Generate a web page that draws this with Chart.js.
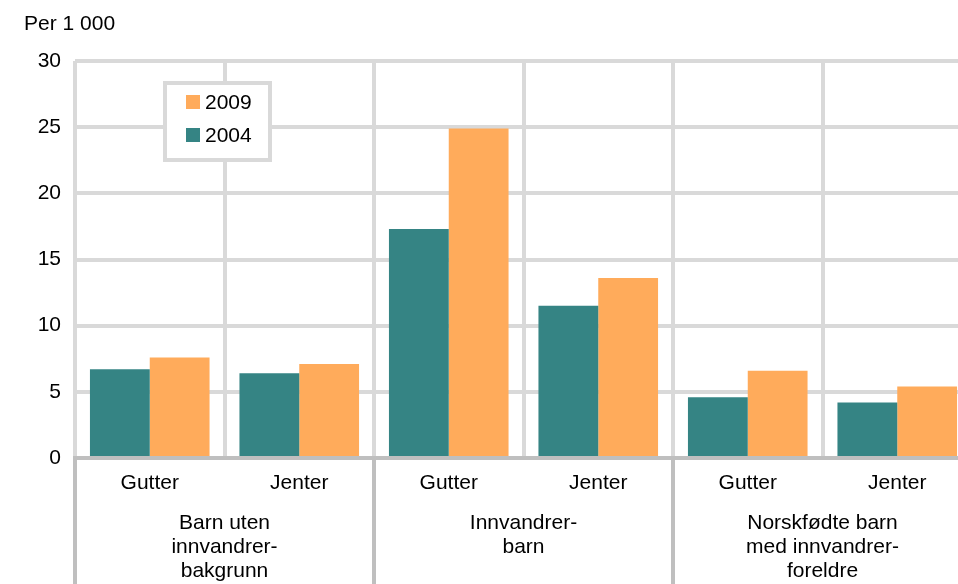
<!DOCTYPE html>
<html>
<head>
<meta charset="utf-8">
<script src="https://cdn.jsdelivr.net/npm/chart.js@4"></script>
<style>
  html, body { margin: 0; padding: 0; background: #fff; overflow: hidden; }
  #wrap { width: 972px; height: 584px; position: relative; }
</style>
</head>
<body>
<div id="wrap"><canvas id="grafico"></canvas></div>
<script>
const kategorier = ['Gutter', 'Jenter', 'Gutter', 'Jenter', 'Gutter', 'Jenter'];
const grupper = [
  ['Barn uten', 'innvandrer-', 'bakgrunn'],
  ['Innvandrer-', 'barn'],
  ['Norskfødte barn', 'med innvandrer-', 'foreldre']
];
const verdier2004 = [6.7, 6.4, 17.3, 11.5, 4.6, 4.2];
const verdier2009 = [7.6, 7.1, 24.9, 13.6, 6.6, 5.4];
const yTicks = [0, 5, 10, 15, 20, 25, 30];

const TEAL = '#358484';
const ORANSJE = '#FFAB5B';
const FONT = '"Liberation Sans", Arial, sans-serif';

// tekst under aksen, skillelinjer, legende og enhet
const ekstra = {
  id: 'ekstra',
  afterDraw(chart) {
    const ctx = chart.ctx;
    const x = chart.scales.x;
    const area = chart.chartArea;
    const steg = x.getPixelForValue(1) - x.getPixelForValue(0);
    ctx.save();

    // skillelinjer mellom gruppene under aksen
    ctx.strokeStyle = '#bfbfbf';
    ctx.lineWidth = 4;
    for (let g = 0; g < grupper.length; g++) {
      const px = x.getPixelForValue(g * 2) - steg / 2;
      ctx.beginPath();
      ctx.moveTo(px, area.bottom);
      ctx.lineTo(px, chart.height);
      ctx.stroke();
    }

    // gruppetekster
    ctx.fillStyle = '#000';
    ctx.font = '21px ' + FONT;
    ctx.textAlign = 'center';
    ctx.textBaseline = 'middle';
    grupper.forEach((linjer, g) => {
      const cx = (x.getPixelForValue(g * 2) + x.getPixelForValue(g * 2 + 1)) / 2;
      linjer.forEach((t, j) => {
        ctx.fillText(t, cx, area.bottom + 65 + j * 24);
      });
    });

    // enhet
    ctx.textAlign = 'left';
    ctx.fillText('Per 1 000', 24, 24);

    // legende
    const lx = 165, ly = 83, lw = 105, lh = 77;
    ctx.fillStyle = '#fff';
    ctx.fillRect(lx, ly, lw, lh);
    ctx.strokeStyle = '#d9d9d9';
    ctx.lineWidth = 4;
    ctx.strokeRect(lx, ly, lw, lh);
    const ds = chart.data.datasets.slice().reverse();
    ds.forEach((d, j) => {
      const yy = 102 + j * 33;
      ctx.fillStyle = d.backgroundColor;
      ctx.fillRect(186, yy - 7, 14, 14);
      ctx.fillStyle = '#000';
      ctx.fillText(d.label, 205, yy + 1);
    });

    ctx.restore();
  }
};

new Chart(document.getElementById('grafico'), {
  type: 'bar',
  data: {
    labels: kategorier,
    datasets: [
      { label: '2004', data: verdier2004, backgroundColor: TEAL },
      { label: '2009', data: verdier2009, backgroundColor: ORANSJE }
    ]
  },
  options: {
    responsive: true,
    maintainAspectRatio: false,
    animation: false,
    categoryPercentage: 0.8,
    barPercentage: 1.0,
    layout: { padding: { top: 61, right: 0, left: 0, bottom: 0 } },
    plugins: {
      legend: { display: false },
      tooltip: { enabled: false }
    },
    scales: {
      x: {
        offset: true,
        grid: { offset: true, color: '#d9d9d9', lineWidth: 4, drawTicks: false },
        border: { display: true, color: '#bfbfbf', width: 4 },
        ticks: { color: '#000', font: { family: FONT, size: 21 }, padding: 13, maxRotation: 0 },
        afterFit(scale) { scale.height = 126; }
      },
      y: {
        min: 0,
        max: 30,
        afterBuildTicks(scale) { scale.ticks = yTicks.map(v => ({ value: v })); },
        grid: { color: '#d9d9d9', lineWidth: 4, drawTicks: false },
        border: { display: false },
        ticks: { color: '#000', font: { family: FONT, size: 21 }, padding: 14 },
        afterFit(scale) { scale.width = 75; }
      }
    }
  },
  plugins: [ekstra]
});
</script>
</body>
</html>
